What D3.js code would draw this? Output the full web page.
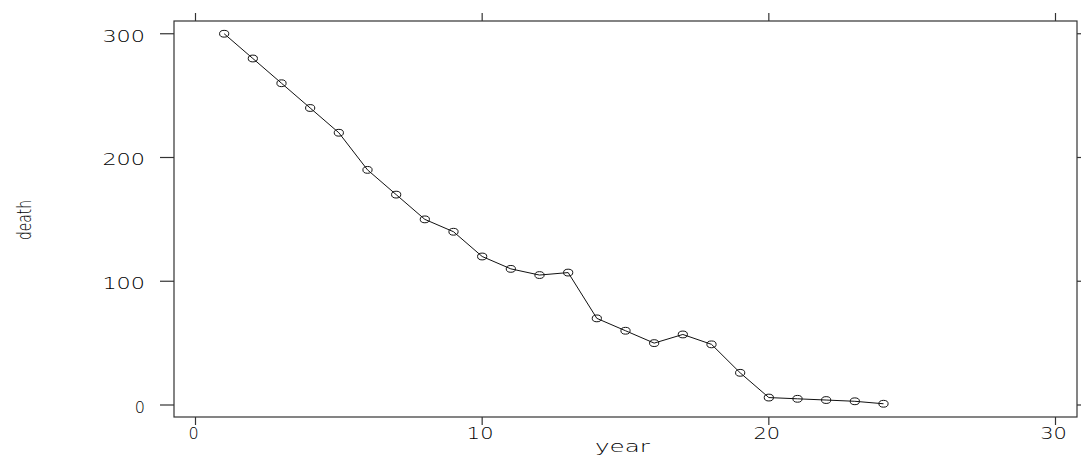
<!DOCTYPE html>
<html><head><meta charset="utf-8">
<script src="https://cdn.jsdelivr.net/npm/d3@7"></script>
<style>html,body{margin:0;padding:0;background:#fff;}svg{display:block;}</style>
</head><body>
<svg id="c" width="1081" height="456"></svg>
<script>
const years = [1,2,3,4,5,6,7,8,9,10,11,12,13,14,15,16,17,18,19,20,21,22,23,24];
const death = [300,280,260,240,220,190,170,150,140,120,110,105,107,70,60,50,57,49,26,6,5,4,3,1];
const xTicks = [0,10,20,30];
const yTicks = [0,100,200,300];
const xLabel = "year";
const yLabel = "death";

const svg = d3.select("#c");
const x = d3.scaleLinear().domain([-0.75, 30.75]).range([174, 1077]);
const y = d3.scaleLinear().domain([-9.7, 310.3]).range([417, 21]);
const [x0, x1] = x.range();
const [y0, y1] = y.range();
const ink = "#000";
const font = "DejaVu Sans, sans-serif";

// frame
svg.append("rect").attr("x", x0).attr("y", y1).attr("width", x1 - x0).attr("height", y0 - y1)
  .attr("fill", "none").attr("stroke", "#333").attr("stroke-width", 1.2);

// ticks
const g = svg.append("g").attr("stroke", "#333").attr("stroke-width", 1.2);
xTicks.forEach(t => {
  g.append("line").attr("x1", x(t)).attr("x2", x(t)).attr("y1", y0).attr("y2", y0 + 8);
  g.append("line").attr("x1", x(t)).attr("x2", x(t)).attr("y1", y1).attr("y2", y1 - 8);
});
yTicks.forEach(t => {
  g.append("line").attr("y1", y(t)).attr("y2", y(t)).attr("x1", x0).attr("x2", x0 - 14);
  g.append("line").attr("y1", y(t)).attr("y2", y(t)).attr("x1", x1).attr("x2", x1 + 8);
});

// tick labels
xTicks.forEach(t => {
  const s = String(t);
  const tx = svg.append("text").attr("x", x(t) - 2).attr("y", 439).attr("text-anchor", "middle")
    .attr("font-family", font).attr("font-weight", 200).attr("font-size", 16).attr("fill", ink).text(s);
  if (s.length > 1) tx.attr("textLength", 13.3 * s.length).attr("lengthAdjust", "spacingAndGlyphs");
});
yTicks.forEach(t => {
  const s = String(t);
  const tx = svg.append("text").attr("x", 145).attr("y", y(t) + 8).attr("text-anchor", "end")
    .attr("font-family", font).attr("font-weight", 200).attr("font-size", 16).attr("fill", ink).text(s);
  if (s.length > 1) tx.attr("textLength", 14.2 * s.length).attr("lengthAdjust", "spacingAndGlyphs");
});

// axis titles
svg.append("text").attr("x", (x0 + x1) / 2 - 3).attr("y", 452).attr("text-anchor", "middle")
  .attr("font-family", font).attr("font-weight", 200).attr("font-size", 16).attr("fill", ink)
  .attr("textLength", 55).attr("lengthAdjust", "spacingAndGlyphs").text(xLabel);
svg.append("text").attr("transform", "translate(31,220) rotate(-90)").attr("text-anchor", "middle")
  .attr("font-family", font).attr("font-weight", 200).attr("font-size", 20).attr("fill", ink)
  .attr("textLength", 40).attr("lengthAdjust", "spacingAndGlyphs").text(yLabel);

// line
const line = d3.line().x((d, i) => x(years[i])).y(d => y(d));
svg.append("path").datum(death).attr("d", line).attr("fill", "none").attr("stroke", "#111").attr("stroke-width", 1);

// points
svg.append("g").selectAll("ellipse").data(death).join("ellipse")
  .attr("cx", (d, i) => x(years[i])).attr("cy", d => y(d))
  .attr("rx", 4.6).attr("ry", 3.4)
  .attr("fill", "none").attr("stroke", "#111").attr("stroke-width", 1);
</script>
</body></html>
